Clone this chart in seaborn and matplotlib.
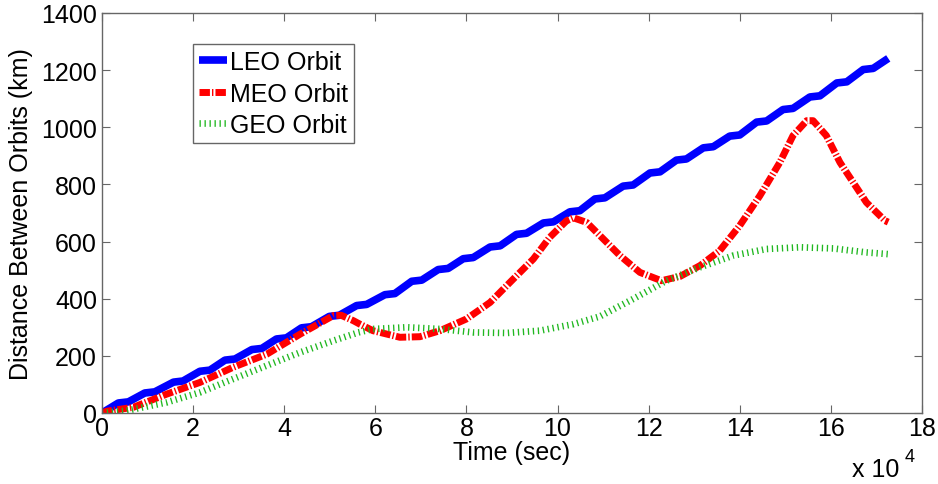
import numpy as np
import pandas as pd
import matplotlib
matplotlib.use("Agg")
import matplotlib.pyplot as plt
import seaborn as sns

# Time axis values are in units of 1e4 seconds; distances in km.
leo_t = [0, 0.36, 0.58, 0.94, 1.16, 1.57, 1.78, 2.15, 2.37, 2.70, 2.92,
         3.29, 3.51, 3.83, 4.05, 4.38, 4.60, 4.99, 5.21, 5.59, 5.81,
         6.21, 6.43, 6.80, 7.02, 7.38, 7.60, 7.93, 8.15, 8.52, 8.74,
         9.10, 9.32, 9.69, 9.91, 10.27, 10.49, 10.82, 11.04, 11.44, 11.66,
         12.03, 12.25, 12.61, 12.83, 13.20, 13.42, 13.78, 14.00, 14.37, 14.59,
         14.95, 15.17, 15.54, 15.76, 16.13, 16.35, 16.71, 16.93, 17.26]
leo_km = [0, 35, 39, 70, 74, 108, 112, 146, 150, 185, 189,
          222, 226, 259, 263, 298, 302, 338, 342, 376, 380,
          414, 418, 461, 465, 502, 506, 540, 544, 581, 585,
          625, 629, 665, 669, 704, 708, 749, 753, 794, 798,
          840, 844, 885, 889, 928, 932, 969, 973, 1018, 1022,
          1062, 1066, 1106, 1110, 1155, 1159, 1202, 1206, 1241]

meo_t = [0, 0.10, 0.69, 1.42, 2.15, 2.88, 3.62, 4.35, 5.08, 5.25, 5.52,
         5.66, 5.95, 6.54, 6.98, 7.42, 8.00, 8.52, 9.03, 9.47, 9.83,
         10.20, 10.35, 10.64, 10.93, 11.37, 11.81, 12.28, 12.69, 13.13,
         13.56, 14.00, 14.44, 14.88, 15.17, 15.47, 15.61, 15.90, 16.20,
         16.49, 16.78, 17.19, 17.26]
meo_km = [0, 6, 20, 66, 107, 160, 206, 276, 341, 342, 323,
          311, 288, 265, 267, 288, 329, 387, 469, 539, 615,
          673, 683, 667, 621, 551, 492, 463, 478, 516,
          568, 656, 760, 877, 971, 1023, 1023, 971, 877,
          807, 737, 673, 668]

geo_t = [0, 0.54, 1.42, 2.15, 2.88, 3.62, 4.35, 5.08, 5.63, 5.95, 6.69,
         7.42, 8.15, 8.88, 9.61, 10.35, 10.93, 11.66, 12.39, 13.13, 13.86,
         14.59, 15.32, 16.05, 16.78, 17.26]
geo_km = [0, 8, 37, 72, 119, 166, 212, 253, 282, 294, 300,
          294, 282, 280, 288, 311, 338, 399, 463, 510, 551,
          574, 580, 576, 562, 556]

labels = ["LEO Orbit", "MEO Orbit", "GEO Orbit"]
x_ticks = [0, 2, 4, 6, 8, 10, 12, 14, 16, 18]
y_ticks = [0, 200, 400, 600, 800, 1000, 1200, 1400]

sns.set_style("white")
plt.rcParams["font.family"] = ["Liberation Sans", "DejaVu Sans"]
plt.rcParams["text.color"] = "black"
plt.rcParams["axes.labelcolor"] = "black"

axis_grey = "#666666"
fs = 18

fig = plt.figure(figsize=(9.38, 4.85), dpi=100)
ax = fig.add_axes([0.1087, 0.1464, 0.8742, 0.8248])

leo = pd.DataFrame({"t": leo_t, "km": leo_km})
meo = pd.DataFrame({"t": meo_t, "km": meo_km})
geo = pd.DataFrame({"t": geo_t, "km": geo_km})

sns.lineplot(data=leo, x="t", y="km", ax=ax, sort=False, estimator=None,
             color="#0000ff", linewidth=5.5, label=labels[0],
             solid_capstyle="butt", solid_joinstyle="round")
sns.lineplot(data=meo, x="t", y="km", ax=ax, sort=False, estimator=None,
             color="#ff0000", linewidth=5.0, label=labels[1],
             linestyle=(0, (1.5, 0.3, 0.2, 0.3)), dash_capstyle="butt")
sns.lineplot(data=geo, x="t", y="km", ax=ax, sort=False, estimator=None,
             color="#22b822", linewidth=4.8, label=labels[2],
             linestyle=(0, (0.2, 0.55)), dash_capstyle="butt")

ax.set_xlim(0, 18)
ax.set_ylim(0, 1400)
ax.set_xticks(x_ticks)
ax.set_yticks(y_ticks)
ax.set_xticklabels([str(v) for v in x_ticks])
ax.set_yticklabels([str(v) for v in y_ticks])

ax.tick_params(direction="in", length=5.8, width=0.8, color=axis_grey,
               labelsize=fs, labelcolor="black",
               top=True, right=True, bottom=True, left=True)
ax.tick_params(axis="x", pad=2)
ax.tick_params(axis="y", pad=3.6)
for side in ["left", "right", "top", "bottom"]:
    ax.spines[side].set_visible(True)
    ax.spines[side].set_color(axis_grey)
    ax.spines[side].set_linewidth(1.0)

ax.set_xlabel("Time (sec)", fontsize=fs, labelpad=0, color="black")
ax.set_ylabel("Distance Between Orbits (km)", fontsize=fs, labelpad=6,
              color="black")

# Scale factor note for the time axis
ax.text(0.972, -0.1575, "x 10", transform=ax.transAxes, fontsize=fs,
        ha="right", va="baseline", color="black")
ax.text(0.979, -0.12, "4", transform=ax.transAxes, fontsize=13,
        ha="left", va="baseline", color="black")

leg = ax.legend(loc="upper left", bbox_to_anchor=(0.111, 0.9225),
                borderaxespad=0, fontsize=fs, frameon=True, fancybox=False,
                edgecolor=axis_grey, framealpha=1, handlelength=1.1,
                handletextpad=0.12, borderpad=0.25, labelspacing=0.3)
leg.get_frame().set_linewidth(1.0)
for txt in leg.get_texts():
    txt.set_color("black")

fig.savefig("out.png", dpi=100)
